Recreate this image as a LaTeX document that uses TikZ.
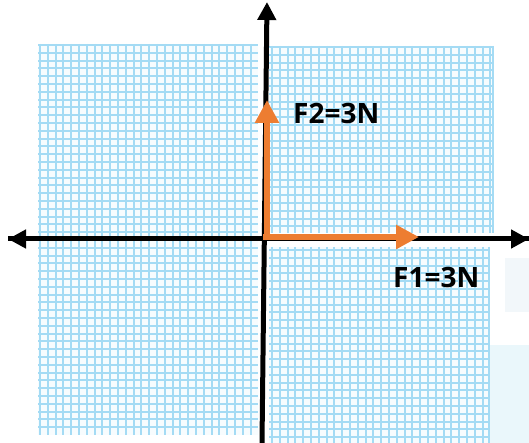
\documentclass[tikz,border=0pt]{standalone}
\usepackage{fontspec}
\setmainfont{Open Sans}
\usetikzlibrary{arrows.meta}
\definecolor{gridblue}{HTML}{A4DBF4}
\definecolor{gridbg}{HTML}{F7FCFE}
\definecolor{forange}{HTML}{ED7D31}
\definecolor{faint}{HTML}{EAF7FB}
\definecolor{faintb}{HTML}{F2F7FA}
\tikzset{
  gridline/.style={draw=gridblue, line width=2pt},
  axisline/.style={draw=black, line width=5pt, -{Triangle[length=18pt,width=18pt]}},
  forcevec/.style={draw=forange, line width=6pt, -{Triangle[length=23pt,width=23pt]}},
  forcelabel/.style={font=\bfseries\fontsize{28}{30}\selectfont, inner sep=0pt, text=black},
}
\begin{document}
\begin{tikzpicture}[x=1pt,y=-1pt]
\useasboundingbox[fill=white] (0,0) rectangle (529,443);
% faint artefacts
\fill[faint] (489,345) rectangle (529,443);
\fill[faintb] (505,258) rectangle (529,312);
% grid regions
\fill[gridbg] (38,44) rectangle (258,435);
\fill[gridbg] (269,46) rectangle (493,233);
\fill[gridbg] (269,247) rectangle (489,443);
\foreach \x in {40,47.8,...,258} \draw[gridline] (\x,44) -- (\x,435);
\foreach \y in {45,52.8,...,435} \draw[gridline] (38,\y) -- (258,\y);
\foreach \x in {272,279.8,...,493} \draw[gridline] (\x,46) -- (\x,233);
\foreach \y in {47,54.8,...,233} \draw[gridline] (269,\y) -- (493,\y);
\foreach \x in {272,279.8,...,489} \draw[gridline] (\x,247) -- (\x,443);
\foreach \y in {250,257.8,...,443} \draw[gridline] (269,\y) -- (489,\y);
\draw[gridblue, line width=2pt] (493,46) -- (493,233);
\draw[gridblue, line width=2pt] (489,247) -- (489,443);
% axes
\coordinate (xL) at (8,239);
\coordinate (xR) at (529,239);
\coordinate (yB) at (262,443);
\coordinate (yT) at (267,2);
\draw[axisline] (xR) -- (xL);
\draw[axisline] (xL) -- (xR);
\draw[axisline] (yB) -- (yT);
% forces
\coordinate (O1) at (263,237);
\coordinate (F1tip) at (419,237);
\coordinate (O2) at (267,240);
\coordinate (F2tip) at (267,100);
\draw[forcevec] (O1) -- (F1tip);
\draw[forcevec] (O2) -- (F2tip);
\node[forcelabel, anchor=base west] (F2lab) at (293,124) {F2=3N};
\node[forcelabel, anchor=base west] (F1lab) at (393,287) {F1=3N};
\end{tikzpicture}
\end{document}
